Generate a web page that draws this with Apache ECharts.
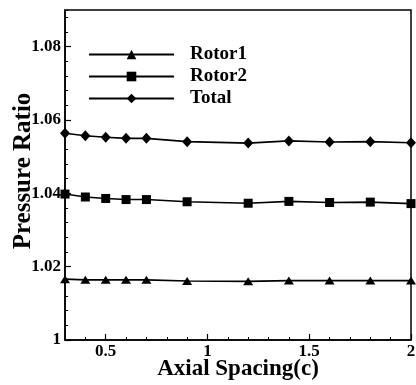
<!DOCTYPE html>
<html>
<head>
<meta charset="utf-8">
<script src="https://cdn.jsdelivr.net/npm/echarts@6/dist/echarts.min.js"></script>
<style>
  html, body { margin: 0; padding: 0; background: #fff; }
  #chart { width: 416px; height: 385px; }
</style>
</head>
<body>
<div id="chart"></div>
<script>
// Axial spacing (chord lengths) at which pressure ratio was computed
const spacing = [0.3, 0.4, 0.5, 0.6, 0.7, 0.9, 1.2, 1.4, 1.6, 1.8, 2.0];

const rotor1 = [1.0166, 1.0164, 1.0164, 1.0164, 1.0164, 1.0161, 1.0160, 1.0162, 1.0162, 1.0162, 1.0162];
const rotor2 = [1.0398, 1.0390, 1.0386, 1.0383, 1.0383, 1.0377, 1.0373, 1.0378, 1.0375, 1.0376, 1.0372];
const total  = [1.0564, 1.0557, 1.0553, 1.0550, 1.0550, 1.0541, 1.0537, 1.0543, 1.0540, 1.0541, 1.0538];

const xTicks = [0.5, 1, 1.5, 2];
const yTicks = [1, 1.02, 1.04, 1.06, 1.08];

const FONT = '"Liberation Serif", "Times New Roman", serif';

function pairs(xs, ys) { return xs.map((x, i) => [x, ys[i]]); }

function fmt(v) { return String(parseFloat(v.toFixed(3))); }

const lineStyle = { color: '#000', width: 1.6 };
const itemStyle = { color: '#000' };

const chart = echarts.init(document.getElementById('chart'), null, { renderer: 'canvas' });

chart.setOption({
  animation: false,
  backgroundColor: '#fff',
  grid: {
    left: 65, right: 5, top: 10, bottom: 45,
    outerBoundsMode: 'none', containLabel: false,
    show: true, borderColor: '#000', borderWidth: 1.5, backgroundColor: 'transparent'
  },
  legend: {
    orient: 'vertical',
    left: 88, top: 45, padding: 0,
    itemWidth: 85, itemHeight: 12, itemGap: 3,
    textStyle: {
      fontFamily: FONT, fontWeight: 'bold', fontSize: 19, color: '#000',
      padding: [0, 0, 0, 11]
    },
    data: ['Rotor1', 'Rotor2', 'Total']
  },
  xAxis: [
    {
      // minor ticks every 0.1
      type: 'value', min: 0.3, max: 2, interval: 0.1,
      axisLine: { show: true, lineStyle: { color: '#000', width: 1.5 } },
      axisTick: { show: true, inside: true, length: 3, lineStyle: { color: '#000', width: 1 } },
      axisLabel: { show: false },
      splitLine: { show: false }
    },
    {
      // major ticks and labels
      type: 'value', min: 0.3, max: 2, position: 'bottom', offset: 0,
      name: 'Axial Spacing(c)', nameLocation: 'middle', nameGap: 18, nameMoveOverlap: false,
      nameTextStyle: { fontFamily: FONT, fontWeight: 'bold', fontSize: 23, color: '#000' },
      axisLine: { show: false },
      axisTick: { show: true, inside: true, length: 6, customValues: xTicks, lineStyle: { color: '#000', width: 1.2 } },
      axisLabel: {
        show: true, customValues: xTicks, margin: 3, formatter: fmt,
        fontFamily: FONT, fontWeight: 'bold', fontSize: 17, color: '#000'
      },
      splitLine: { show: false }
    }
  ],
  yAxis: [
    {
      // minor ticks every 0.004
      type: 'value', min: 1, max: 1.09, interval: 0.004,
      axisLine: { show: true, lineStyle: { color: '#000', width: 1.5 } },
      axisTick: { show: true, inside: true, length: 3, lineStyle: { color: '#000', width: 1 } },
      axisLabel: { show: false },
      splitLine: { show: false }
    },
    {
      // major ticks and labels
      type: 'value', min: 1, max: 1.09, position: 'left', offset: 0,
      name: 'Pressure Ratio', nameLocation: 'middle', nameGap: 29, nameMoveOverlap: false,
      nameTextStyle: { fontFamily: FONT, fontWeight: 'bold', fontSize: 25, color: '#000', padding: [0, 0, 0, 8] },
      axisLine: { show: false },
      axisTick: { show: true, inside: true, length: 6, customValues: yTicks, lineStyle: { color: '#000', width: 1.2 } },
      axisLabel: {
        show: true, customValues: yTicks, margin: 4, formatter: fmt,
        fontFamily: FONT, fontWeight: 'bold', fontSize: 17, color: '#000'
      },
      splitLine: { show: false }
    }
  ],
  series: [
    {
      name: 'Rotor1', type: 'line', xAxisIndex: 1, yAxisIndex: 1,
      data: pairs(spacing, rotor1),
      symbol: 'triangle', symbolSize: [10, 8], showAllSymbol: true,
      lineStyle, itemStyle
    },
    {
      name: 'Rotor2', type: 'line', xAxisIndex: 1, yAxisIndex: 1,
      data: pairs(spacing, rotor2),
      symbol: 'rect', symbolSize: 9, showAllSymbol: true,
      lineStyle, itemStyle
    },
    {
      name: 'Total', type: 'line', xAxisIndex: 1, yAxisIndex: 1,
      data: pairs(spacing, total),
      symbol: 'diamond', symbolSize: [10, 11], showAllSymbol: true,
      lineStyle, itemStyle
    }
  ]
});
</script>
</body>
</html>
